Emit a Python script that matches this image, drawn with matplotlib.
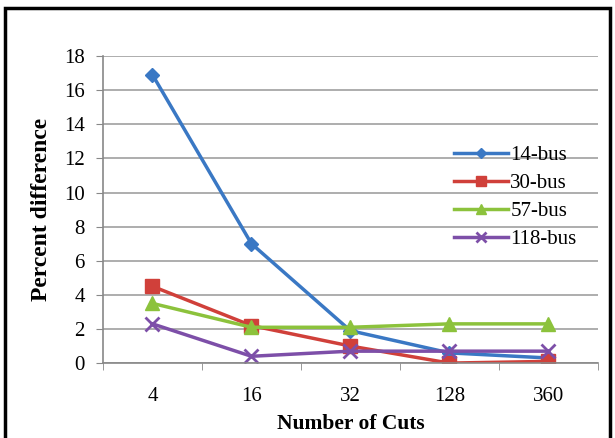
import matplotlib
matplotlib.use("Agg")
import matplotlib.pyplot as plt
from matplotlib.patches import Rectangle
import numpy as np

categories = ["4", "16", "32", "128", "360"]
bus14 = [16.9, 7.0, 1.9, 0.6, 0.3]
bus30 = [4.5, 2.2, 1.0, 0.0, 0.1]
bus57 = [3.5, 2.1, 2.1, 2.3, 2.3]
bus118 = [2.3, 0.4, 0.7, 0.7, 0.7]
series_names = ["14-bus", "30-bus", "57-bus", "118-bus"]

plt.rcParams['font.family'] = ['Liberation Serif', 'DejaVu Serif']

fig = plt.figure(figsize=(6.15, 4.38), dpi=100)
ax = fig.add_axes([0.1675, 0.171, 0.8045, 0.701])

x = np.arange(len(categories))
ax.plot(x, bus14, color='#3a78c4', lw=2.5, marker='D', ms=7, label=series_names[0])
ax.plot(x, bus30, color='#d0403a', lw=2.5, marker='s', ms=10, label=series_names[1])
ax.plot(x, bus57, color='#8cc23c', lw=2.5, marker='^', ms=10, label=series_names[2])
ax.plot(x, bus118, color='#7d4fa8', lw=2.5, marker='x', ms=10, mew=2, label=series_names[3])

ax.set_xlim(-0.5, 4.5)
ax.set_ylim(0, 18)
ax.set_yticks(np.arange(0, 19, 2))
ax.set_xticks(x)
ax.set_xticklabels(categories)
ax.set_xticks(np.arange(-0.5, 4.6, 1), minor=True)
ax.tick_params(axis='x', which='major', length=0, labelsize=15, pad=17)
ax.tick_params(axis='x', which='minor', length=5, color='#888888', direction='out')
ax.tick_params(axis='y', length=5, color='#888888', labelsize=15, pad=8)
ax.yaxis.grid(True, color='#a0a0a0', lw=1.2)
ax.set_axisbelow(True)
for s in ['top', 'right']:
    ax.spines[s].set_visible(False)
for s in ['left', 'bottom']:
    ax.spines[s].set_color('#888888')
    ax.spines[s].set_linewidth(1.2)

ax.set_xlabel("Number of Cuts", fontsize=15.5, fontweight='bold', labelpad=6)
ax.set_ylabel("Percent difference", fontsize=17, fontweight='bold', labelpad=9)

leg = ax.legend(loc='upper left', bbox_to_anchor=(0.68, 0.755), frameon=False,
                fontsize=15, handlelength=2.6, handletextpad=0.1,
                labelspacing=0.4, borderpad=0.2, markerscale=0.7)

fig.patches.append(Rectangle((0.008, -0.01), 0.984, 0.992, transform=fig.transFigure,
                             fill=False, edgecolor='black', lw=2.5))

fig.savefig("out.png", dpi=100)
